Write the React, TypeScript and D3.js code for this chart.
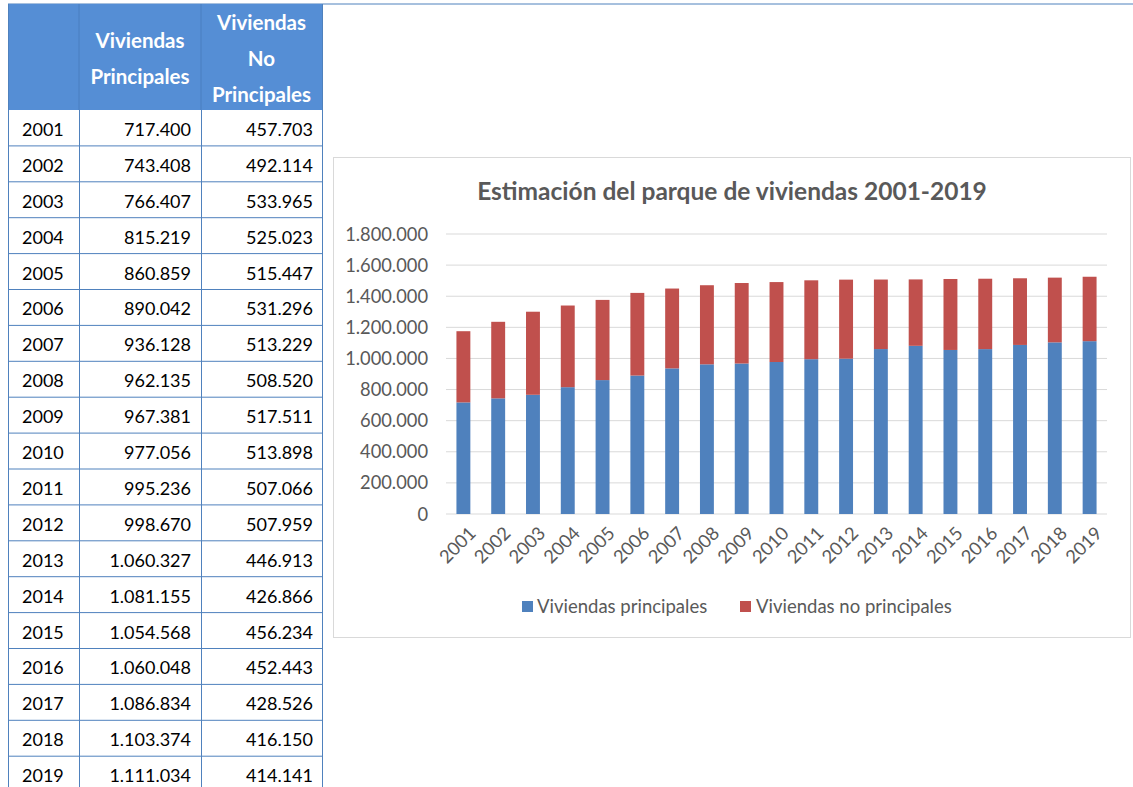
import React from "react";
import * as d3 from "d3";

const years = ["2001","2002","2003","2004","2005","2006","2007","2008","2009","2010","2011","2012","2013","2014","2015","2016","2017","2018","2019"];
const principales = [717400,743408,766407,815219,860859,890042,936128,962135,967381,977056,995236,998670,1060327,1081155,1054568,1060048,1086834,1103374,1111034];
const noPrincipales = [457703,492114,533965,525023,515447,531296,513229,508520,517511,513898,507066,507959,446913,426866,456234,452443,428526,416150,414141];
const yTicks = [0,200000,400000,600000,800000,1000000,1200000,1400000,1600000,1800000];
const seriesNames = ["Viviendas principales","Viviendas no principales"];
const title = "Estimación del parque de viviendas 2001-2019";

const locale = d3.formatLocale({ decimal: ",", thousands: ".", grouping: [3], currency: ["", "€"] });
const fmt = locale.format(",d");

const BLUE = "#4F81BD";
const RED = "#C0504D";
const TXT = "#595959";

export default function App() {
  // table geometry
  const tLeft = 8, c1 = 79, c2 = 201, c3 = 322;
  const tTop = 4, headBottom = 110, rowH = 35.9;
  const rowY = d3.scaleLinear().domain([0, 1]).range([headBottom, headBottom + rowH]);

  // chart geometry
  const x = d3.scaleBand().domain(years).range([446, 1107]).paddingInner(0.6).paddingOuter(0.3);
  const y = d3.scaleLinear().domain([0, 1800000]).range([514, 234]);
  const stack = d3.stack<number>().keys(["p", "n"]).value((i, k) => (k === "p" ? principales[i] : noPrincipales[i]));
  const series = stack(years.map((_, i) => i));
  const colors = [BLUE, RED];

  const tableFont = "Lato, 'Noto Sans', sans-serif";
  const chartFont = "Lato, 'Noto Sans', sans-serif";

  return (
    <svg width={1133} height={787} style={{ position: "absolute", left: 0, top: 0, background: "#fff" }}>
      {/* top line */}
      <line x1={tLeft} x2={1133} y1={tTop} y2={tTop} stroke="#4F81BD" strokeWidth={1} />
      {/* header */}
      <rect x={tLeft} y={tTop} width={c3 - tLeft} height={headBottom - tTop} fill="#558ED5" />
      {[c1, c2].map((cx) => (
        <line key={cx} x1={cx} x2={cx} y1={tTop} y2={headBottom} stroke="#4A7EC0" strokeWidth={1} />
      ))}
      <g fontFamily={tableFont} fontWeight={700} fontSize={20.5} fill="#fff" textAnchor="middle">
        <text x={(c1 + c2) / 2} y={48}>Viviendas</text>
        <text x={(c1 + c2) / 2} y={84}>Principales</text>
        <text x={(c2 + c3) / 2} y={30}>Viviendas</text>
        <text x={(c2 + c3) / 2} y={66}>No</text>
        <text x={(c2 + c3) / 2} y={102}>Principales</text>
      </g>
      {/* rows */}
      <g fontFamily={tableFont} fontSize={18} fill="#000">
        {years.map((yr, i) => {
          const top = rowY(i);
          const mid = top + rowH / 2 + 8;
          return (
            <g key={yr}>
              <line x1={tLeft} x2={c3} y1={top + rowH} y2={top + rowH} stroke="#4F81BD" strokeWidth={1} />
              <text x={22} y={mid}>{yr}</text>
              <text x={191} y={mid} textAnchor="end">{fmt(principales[i])}</text>
              <text x={313} y={mid} textAnchor="end">{fmt(noPrincipales[i])}</text>
            </g>
          );
        })}
      </g>
      {[tLeft, c1, c2, c3].map((cx) => (
        <line key={"v" + cx} x1={cx + 0.5} x2={cx + 0.5} y1={headBottom} y2={787} stroke="#4F81BD" strokeWidth={1} />
      ))}
      <line x1={c3 + 0.5} x2={c3 + 0.5} y1={tTop} y2={headBottom} stroke="#4F81BD" strokeWidth={1} />
      <line x1={tLeft + 0.5} x2={tLeft + 0.5} y1={tTop} y2={headBottom} stroke="#4F81BD" strokeWidth={1} />

      {/* chart box */}
      <rect x={333.5} y={157.5} width={797} height={480} fill="#fff" stroke="#D9D9D9" strokeWidth={1} />
      <text x={732} y={200} textAnchor="middle" fontFamily={chartFont} fontWeight={700} fontSize={24.5} fill={TXT}>{title}</text>
      {/* gridlines + y labels */}
      <g fontFamily={chartFont} fontSize={18.3} fill={TXT}>
        {yTicks.map((t) => (
          <g key={t}>
            <line x1={446} x2={1107} y1={y(t)} y2={y(t)} stroke="#D9D9D9" strokeWidth={1} />
            <text x={428} y={y(t) + 6.5} textAnchor="end">{fmt(t)}</text>
          </g>
        ))}
      </g>
      {/* bars */}
      {series.map((s, si) => (
        <g key={si} fill={colors[si]}>
          {s.map((d, i) => (
            <rect key={i} x={x(years[i])!} width={x.bandwidth()} y={y(d[1])} height={y(d[0]) - y(d[1])} />
          ))}
        </g>
      ))}
      {/* x labels */}
      <g fontFamily={chartFont} fontSize={18.3} fill={TXT}>
        {years.map((yr) => {
          const cx = x(yr)! + x.bandwidth() / 2;
          return (
            <text key={yr} transform={`translate(${cx + 9},${530}) rotate(-45)`} textAnchor="end" dy="0.35em">{yr}</text>
          );
        })}
      </g>
      {/* legend */}
      <g fontFamily={chartFont} fontSize={18.5} fill={TXT}>
        <rect x={522} y={601} width={11} height={11} fill={BLUE} />
        <text x={537} y={613}>{seriesNames[0]}</text>
        <rect x={740} y={601} width={11} height={11} fill={RED} />
        <text x={756} y={613}>{seriesNames[1]}</text>
      </g>
    </svg>
  );
}
